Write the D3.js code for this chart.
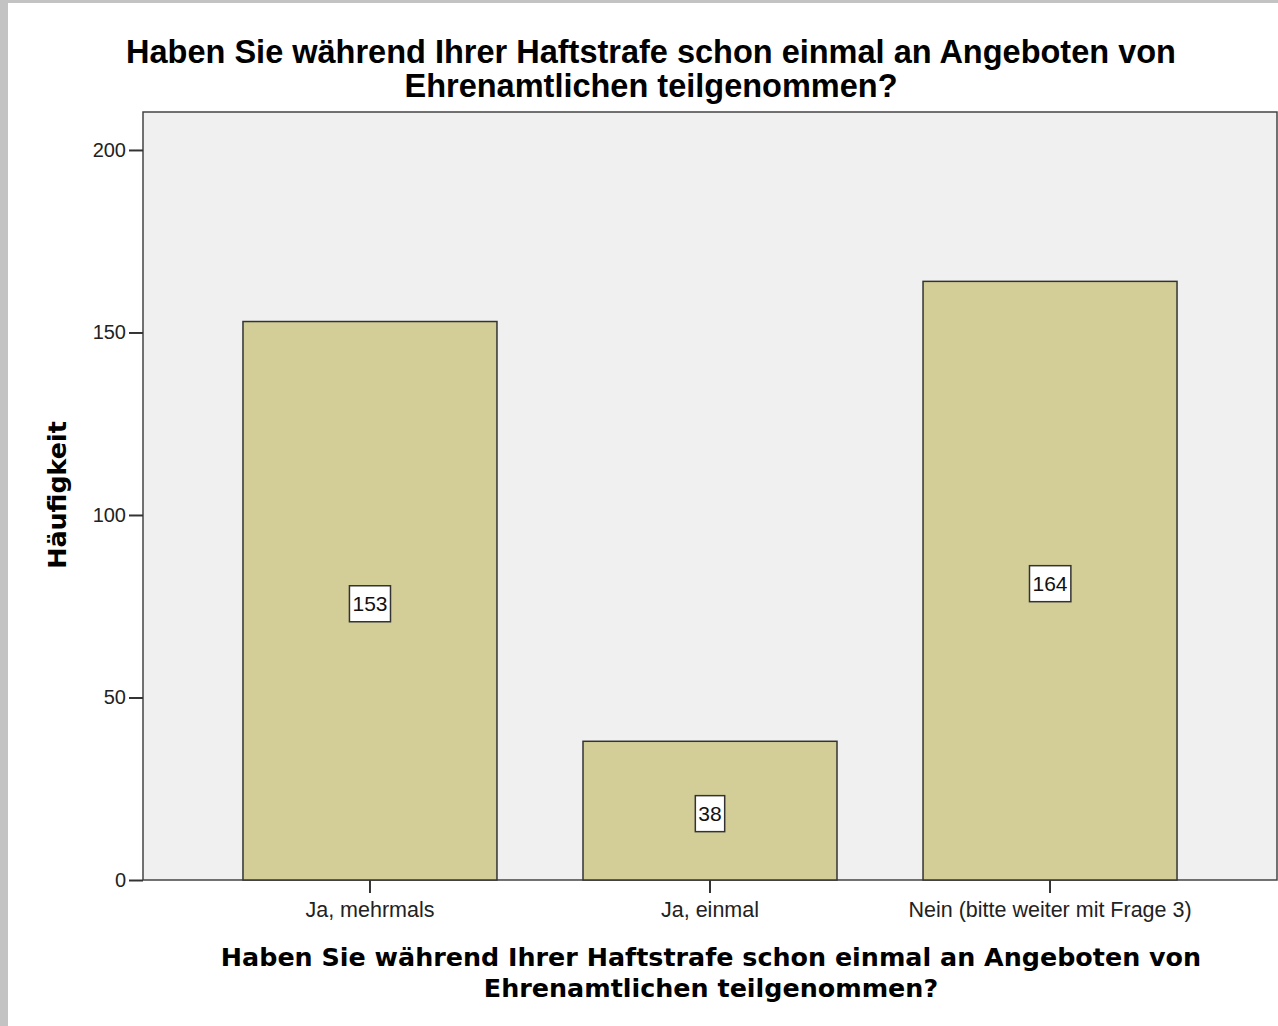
<!DOCTYPE html>
<html>
<head>
<meta charset="utf-8">
<script src="https://cdn.jsdelivr.net/npm/d3@7"></script>
<style>
body { margin: 0; background: #fff; }
</style>
</head>
<body>
<div id="chart"></div>
<script>
// bar chart data
var categories = ["Ja, mehrmals", "Ja, einmal", "Nein (bitte weiter mit Frage 3)"];
var counts = [153, 38, 164];
var yTicks = [0, 50, 100, 150, 200];

var titleLines = ["Haben Sie während Ihrer Haftstrafe schon einmal an Angeboten von",
    "Ehrenamtlichen teilgenommen?"];

draw("#chart");

function draw(selector) {

var width = 1278,
    height = 1026;

var svg = d3.select(selector)
    .append("svg")
    .attr("width", width)
    .attr("height", height);

// gray frame on the left and top
svg.append("rect").attr("x", 0).attr("y", 0).attr("width", width).attr("height", height).attr("fill", "#c3c3c3");
svg.append("rect").attr("x", 8).attr("y", 3).attr("width", width - 8).attr("height", height - 3).attr("fill", "#fff");

var left = 143, right = 1277, plotTop = 112, bottom = 880;

var xScale = d3.scaleBand()
    .domain(categories)
    .range([left, right])
    .paddingInner(0.253)
    .paddingOuter(0.294);

var yScale = d3.scaleLinear()
    .domain([0, 210.4])
    .range([bottom, plotTop]);

svg.append("rect")
    .attr("x", left).attr("y", plotTop)
    .attr("width", right - left).attr("height", bottom - plotTop)
    .attr("fill", "#f0f0f0")
    .attr("stroke", "#444")
    .attr("stroke-width", 1.5);

var data = categories.map(function(c, i) { return {name: c, value: counts[i]}; });

svg.selectAll(".bar")
    .data(data)
    .enter().append("rect")
    .attr("class", "bar")
    .attr("x", function(d) { return xScale(d.name); })
    .attr("y", function(d) { return yScale(d.value); })
    .attr("width", xScale.bandwidth())
    .attr("height", function(d) { return bottom - yScale(d.value); })
    .attr("fill", "#d3ce97")
    .attr("stroke", "#333")
    .attr("stroke-width", 1.5);

// value labels in boxes
var lab = svg.selectAll(".lab")
    .data(data)
    .enter().append("g")
    .attr("class", "lab")
    .attr("transform", function(d) {
        return "translate(" + (xScale(d.name) + xScale.bandwidth() / 2) + "," + ((yScale(d.value) + bottom) / 2 + 3) + ")";
    });

lab.append("text")
    .attr("text-anchor", "middle")
    .attr("dy", "0.35em")
    .attr("font-family", "Liberation Sans, Arial, sans-serif")
    .attr("font-size", 21)
    .attr("fill", "#111")
    .text(function(d) { return d.value; });

lab.each(function() {
    var g = d3.select(this);
    var bb = g.select("text").node().getBBox();
    g.insert("rect", "text")
        .attr("x", bb.x - 3).attr("y", -18)
        .attr("width", bb.width + 6).attr("height", 36)
        .attr("fill", "#fff")
        .attr("stroke", "#333")
        .attr("stroke-width", 1.5);
});

// axes
var yAxis = d3.axisLeft(yScale).tickValues(yTicks).tickSize(14).tickPadding(3);
var gy = svg.append("g")
    .attr("transform", "translate(" + left + ",0)")
    .call(yAxis);
gy.select(".domain").remove();
gy.selectAll("line").attr("stroke", "#333").attr("stroke-width", 2);
gy.selectAll("text").attr("font-family", "Liberation Sans, Arial, sans-serif").attr("font-size", 20).attr("fill", "#222");

var xAxis = d3.axisBottom(xScale).tickSize(13).tickPadding(9);
var gx = svg.append("g")
    .attr("transform", "translate(0," + bottom + ")")
    .call(xAxis);
gx.select(".domain").remove();
gx.selectAll("line").attr("stroke", "#333").attr("stroke-width", 2);
gx.selectAll("text").attr("font-family", "Liberation Sans, Arial, sans-serif").attr("font-size", 21.5).attr("fill", "#222");

// titles
svg.append("text")
    .attr("x", 651).attr("y", 63)
    .attr("text-anchor", "middle")
    .attr("font-family", "Liberation Sans, Arial, sans-serif")
    .attr("font-weight", "bold")
    .attr("font-size", 32.5)
    .selectAll("tspan")
    .data(titleLines)
    .enter().append("tspan")
    .attr("x", 651)
    .attr("dy", function(d, i) { return i ? 34 : 0; })
    .text(function(d) { return d; });

svg.append("text")
    .attr("x", 711).attr("y", 966)
    .attr("text-anchor", "middle")
    .attr("font-family", "DejaVu Sans, sans-serif")
    .attr("font-weight", "bold")
    .attr("font-size", 25.4)
    .selectAll("tspan")
    .data(titleLines)
    .enter().append("tspan")
    .attr("x", 711)
    .attr("dy", function(d, i) { return i ? 31 : 0; })
    .text(function(d) { return d; });

svg.append("text")
    .attr("transform", "translate(66,495) rotate(-90)")
    .attr("text-anchor", "middle")
    .attr("font-family", "DejaVu Sans, sans-serif")
    .attr("font-weight", "bold")
    .attr("font-size", 25.4)
    .text("Häufigkeit");
}
</script>
</body>
</html>
